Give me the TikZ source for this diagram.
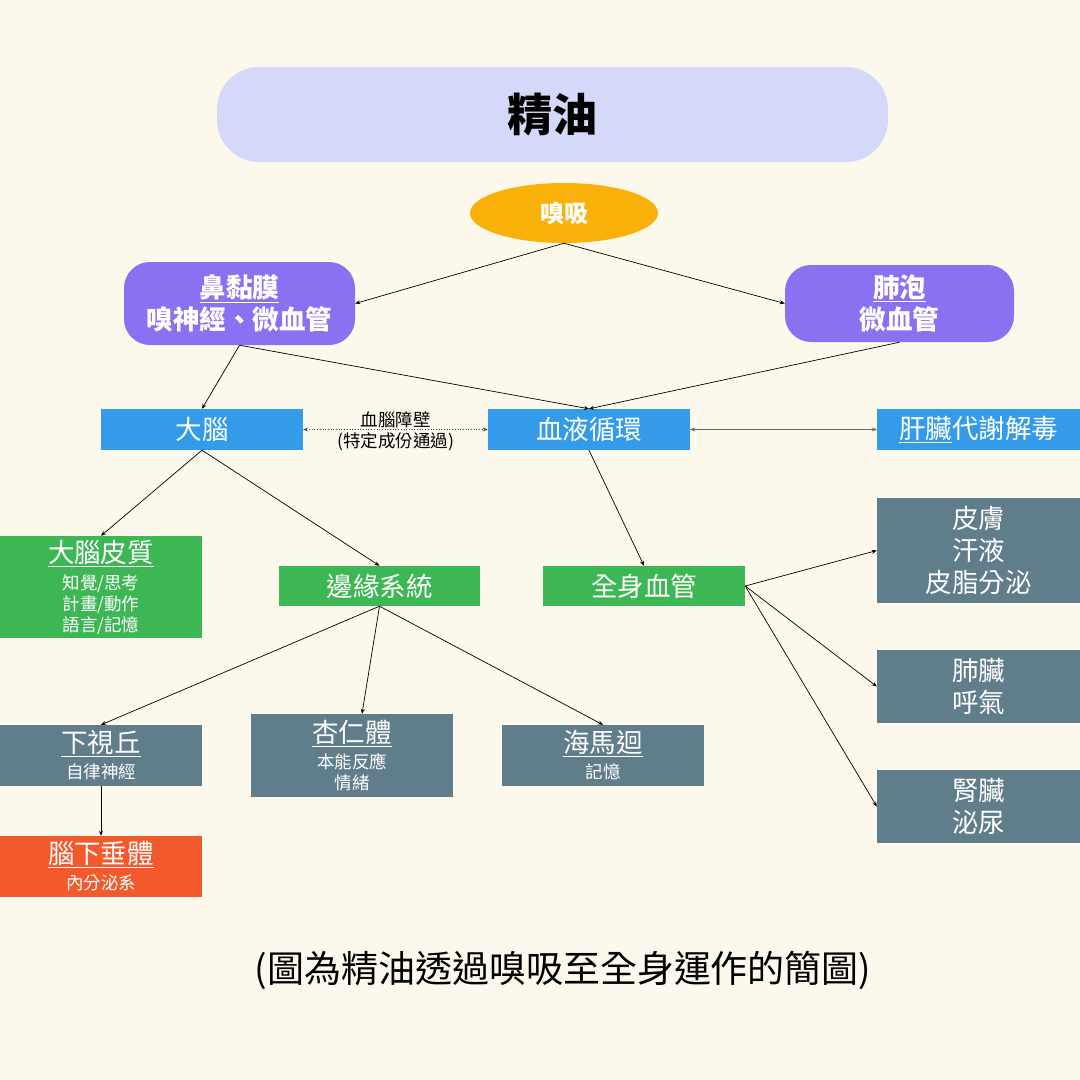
\documentclass[tikz,border=0pt]{standalone}
\usepackage{fontspec}
\setmainfont{Noto Sans CJK TC}
\usetikzlibrary{arrows.meta,shapes.geometric}
\definecolor{bg}{HTML}{FCF9EC}
\definecolor{titlec}{HTML}{D4D9FA}
\definecolor{ellc}{HTML}{F9B008}
\definecolor{purp}{HTML}{8B71F1}
\definecolor{bluec}{HTML}{339BE9}
\definecolor{greenc}{HTML}{3CB754}
\definecolor{slate}{HTML}{607D8B}
\definecolor{redc}{HTML}{F2592B}
\newcommand{\hd}{\fontsize{26.5}{32}\selectfont}
\newcommand{\sm}{\fontsize{17.5}{21}\selectfont}
\newcommand{\ulx}[1]{\underline{#1}}
\begin{document}
\begin{tikzpicture}[x=1pt,y=-1pt,
  box/.style={rectangle, inner sep=0pt, align=center, text=white, font=\hd},
  bbox/.style={box, fill=bluec, minimum width=202pt, minimum height=41pt},
  gbox/.style={box, fill=greenc},
  sbox/.style={box, fill=slate},
  pbox/.style={box, fill=purp, rounded corners=26pt, font=\bfseries\hd},
  arr/.style={-{Stealth[length=5pt,width=4pt]}, line width=0.7pt, black},
  darr/.style={{Stealth[length=5pt,width=4pt]}-{Stealth[length=5pt,width=4pt]}, line width=0.7pt},
  lbl/.style={font=\fontsize{17.5}{20}\selectfont, text=black, inner sep=1pt}
]
\fill[bg] (0,0) rectangle (1080,1080);
\useasboundingbox (0,0) rectangle (1080,1080);

% title
\node[rectangle, rounded corners=42pt, fill=titlec, minimum width=671pt, minimum height=95pt,
      font=\bfseries\fontsize{45}{52}\selectfont] (title) at (552.5,114.5) {精油};
% sniff
\node[ellipse, fill=ellc, minimum width=188pt, minimum height=60pt, inner sep=0pt,
      text=white, font=\bfseries\fontsize{24}{28}\selectfont] (xi) at (564,213) {嗅吸};
% purple
\node[pbox, minimum width=231pt, minimum height=83pt] (bm) at (239.5,303.5) {\ulx{鼻黏膜}\\嗅神經、微血管};
\node[pbox, minimum width=229pt, minimum height=77pt] (fp) at (899.5,303.5) {\ulx{肺泡}\\微血管};
% blue
\node[bbox] (dn) at (202,429.5) {大腦};
\node[bbox] (xh) at (589,429.5) {血液循環};
\node[bbox, minimum width=203pt] (gz) at (978.5,429.5) {\ulx{肝臟}代謝解毒};
% green
\node[gbox, minimum width=202pt, minimum height=102pt] (dp) at (101,587)
  {\ulx{大腦皮質}\\[-5pt]{\sm 知覺/思考}\\[-11pt]{\sm 計畫/動作}\\[-11pt]{\sm 語言/記憶}};
\node[gbox, minimum width=201pt, minimum height=40pt] (by) at (379.5,586) {邊緣系統};
\node[gbox, minimum width=202pt, minimum height=40pt] (qs) at (644,586) {全身血管};
% slate lower
\node[sbox, minimum width=202pt, minimum height=61pt] (xs) at (101,755.5) {\ulx{下視丘}\\[-6pt]{\sm 自律神經}};
\node[sbox, minimum width=202pt, minimum height=83pt] (xr) at (352,755.5) {\ulx{杏仁體}\\[-6pt]{\sm 本能反應}\\[-11pt]{\sm 情緒}};
\node[sbox, minimum width=202pt, minimum height=61pt] (hm) at (603,755.5) {\ulx{海馬迴}\\[-6pt]{\sm 記憶}};
\node[box, fill=redc, minimum width=202pt, minimum height=61pt] (nx) at (101,866.5) {\ulx{腦下垂體}\\[-6pt]{\sm 內分泌系}};
% slate right
\node[sbox, minimum width=203pt, minimum height=105pt] (pf) at (978.5,550.5) {皮膚\\汗液\\皮脂分泌};
\node[sbox, minimum width=203pt, minimum height=73pt] (fz) at (978.5,686.5) {肺臟\\呼氣};
\node[sbox, minimum width=203pt, minimum height=73pt] (sz) at (978.5,806.5) {腎臟\\泌尿};
% caption
\node[font=\fontsize{37}{44}\selectfont, text=black] (cap) at (563,970) {(圖為精油透過嗅吸至全身運作的簡圖)};

% connectors
\draw[arr] (xi.south) -- (bm.east);
\draw[arr] (xi.south) -- (fp.west);
\draw[arr] (bm.south) -- (dn.north);
\draw[arr] (bm.south) -- (xh.north);
\draw[arr] (fp.south) -- (xh.north);
\draw[darr, dotted, black!70] (dn.east) -- node[lbl, above] {血腦障壁} node[lbl, below, inner sep=3pt] {(特定成份通過)} (xh.west);
\draw[darr, black!60] (xh.east) -- (gz.west);
\draw[arr] (dn.south) -- (dp.north);
\draw[arr] (dn.south) -- (by.north);
\draw[arr] (xh.south) -- (qs.north);
\draw[arr] (by.south) -- (xs.north);
\draw[arr] (by.south) -- ([xshift=10pt]xr.north);
\draw[arr] (by.south) -- (hm.north);
\draw[arr] (xs.south) -- (nx.north);
\draw[arr] (qs.east) -- (pf.west);
\draw[arr] (qs.east) -- (fz.west);
\draw[arr] (qs.east) -- (sz.west);
\end{tikzpicture}
\end{document}
